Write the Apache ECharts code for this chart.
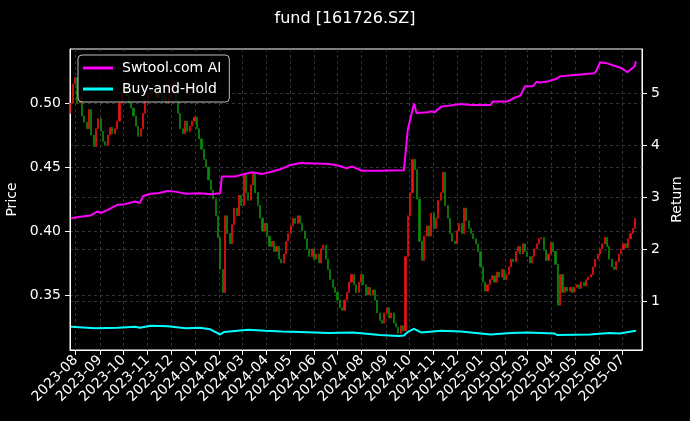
<!DOCTYPE html>
<html><head><meta charset="utf-8">
<script src="https://cdn.jsdelivr.net/npm/echarts@6/dist/echarts.min.js"></script>
<style>html,body{margin:0;padding:0;background:#000}#c{width:690px;height:421px}</style>
</head><body><div id="c"></div>
<script>
// ---- data ----
const title = 'fund [161726.SZ]';
const candleStart = '2023-07-25';   // first sampled day
const candleStepDays = 3;           // one candle per 3 calendar days
const firstOpen = 0.492;
const closes = [
0.500,0.515,0.520,0.500,0.505,0.490,0.485,0.480,0.495,0.475,
0.466,0.480,0.488,0.478,0.470,0.467,0.475,0.481,0.476,0.480,
0.486,0.500,0.508,0.512,0.506,0.500,0.496,0.490,0.482,0.474,
0.480,0.492,0.502,0.508,0.512,0.506,0.510,0.504,0.508,0.502,
0.506,0.500,0.504,0.508,0.516,0.502,0.492,0.480,0.476,0.486,
0.478,0.482,0.486,0.489,0.480,0.472,0.464,0.456,0.450,0.440,
0.432,0.425,0.412,0.395,0.370,0.352,0.412,0.398,0.390,0.405,
0.418,0.412,0.428,0.420,0.444,0.430,0.424,0.436,0.445,0.430,
0.420,0.410,0.400,0.406,0.396,0.388,0.392,0.384,0.388,0.378,
0.375,0.382,0.392,0.398,0.404,0.410,0.406,0.412,0.406,0.400,
0.394,0.386,0.380,0.386,0.378,0.382,0.375,0.386,0.389,0.378,
0.370,0.362,0.356,0.352,0.346,0.340,0.338,0.346,0.352,0.360,
0.366,0.358,0.352,0.360,0.366,0.358,0.350,0.356,0.350,0.354,
0.346,0.336,0.330,0.328,0.336,0.340,0.332,0.336,0.328,0.325,
0.320,0.326,0.322,0.380,0.412,0.430,0.456,0.448,0.425,0.392,
0.377,0.396,0.404,0.396,0.414,0.402,0.410,0.424,0.430,0.446,
0.420,0.410,0.398,0.392,0.390,0.400,0.406,0.398,0.418,0.408,
0.402,0.398,0.394,0.390,0.384,0.372,0.360,0.353,0.358,0.362,
0.365,0.360,0.368,0.364,0.370,0.362,0.366,0.372,0.378,0.376,
0.384,0.388,0.382,0.390,0.384,0.380,0.375,0.380,0.386,0.390,
0.394,0.395,0.385,0.377,0.382,0.391,0.384,0.374,0.342,0.366,
0.352,0.356,0.353,0.356,0.352,0.356,0.358,0.355,0.360,0.357,
0.362,0.364,0.366,0.372,0.378,0.382,0.386,0.390,0.395,0.388,
0.378,0.372,0.370,0.376,0.382,0.386,0.390,0.387,0.394,0.398,
0.402,0.410
];
const stratName = 'Swtool.com AI';
const stratDates = ['2023-07-26','2023-08-07','2023-08-20','2023-08-29','2023-09-02','2023-09-11','2023-09-24','2023-10-03','2023-10-16','2023-10-22','2023-10-26','2023-11-05','2023-11-14','2023-11-27','2023-12-06','2023-12-20','2024-01-07','2024-01-20','2024-02-02','2024-02-04','2024-02-21','2024-03-04','2024-03-14','2024-03-27','2024-04-05','2024-04-21','2024-04-30','2024-05-14','2024-06-02','2024-06-21','2024-07-04','2024-07-12','2024-07-20','2024-08-01','2024-08-24','2024-09-24','2024-09-29','2024-10-07','2024-10-10','2024-10-25','2024-10-29','2024-11-02','2024-11-11','2024-12-06','2024-12-19','2025-01-13','2025-01-16','2025-02-04','2025-02-11','2025-02-20','2025-02-26','2025-03-08','2025-03-13','2025-03-17','2025-03-26','2025-04-08','2025-04-12','2025-05-04','2025-05-26','2025-05-29','2025-06-02','2025-06-11','2025-06-19','2025-06-29','2025-07-07','2025-07-16','2025-07-18'];
const stratValues = [2.60,2.63,2.65,2.73,2.70,2.76,2.86,2.87,2.92,2.89,3.02,3.07,3.08,3.12,3.11,3.07,3.08,3.06,3.08,3.40,3.40,3.45,3.48,3.45,3.48,3.55,3.61,3.66,3.65,3.64,3.60,3.56,3.59,3.51,3.51,3.52,4.30,4.80,4.62,4.63,4.65,4.63,4.74,4.79,4.77,4.77,4.84,4.84,4.90,4.95,5.13,5.13,5.22,5.20,5.22,5.28,5.32,5.35,5.38,5.45,5.59,5.57,5.53,5.48,5.40,5.51,5.61];
const bhName = 'Buy-and-Hold';
const bhDates = ['2023-07-26','2023-08-26','2023-09-24','2023-10-16','2023-10-22','2023-11-05','2023-11-27','2023-12-20','2024-01-07','2024-01-20','2024-02-02','2024-02-07','2024-03-09','2024-03-31','2024-04-21','2024-05-14','2024-06-21','2024-07-21','2024-08-24','2024-09-17','2024-09-24','2024-09-29','2024-10-07','2024-10-16','2024-11-11','2024-12-06','2025-01-13','2025-02-08','2025-03-01','2025-04-05','2025-04-08','2025-05-20','2025-06-14','2025-06-27','2025-07-18'];
const bhValues = [0.52,0.49,0.50,0.52,0.50,0.54,0.53,0.49,0.50,0.47,0.37,0.42,0.46,0.44,0.43,0.42,0.40,0.41,0.36,0.34,0.35,0.42,0.48,0.41,0.44,0.43,0.37,0.40,0.41,0.39,0.36,0.37,0.40,0.39,0.44];
const monthTicks = ['2023-08','2023-09','2023-10','2023-11','2023-12','2024-01','2024-02','2024-03','2024-04','2024-05','2024-06','2024-07','2024-08','2024-09','2024-10','2024-11','2024-12','2025-01','2025-02','2025-03','2025-04','2025-05','2025-06','2025-07'];
const priceTicks = [0.35,0.40,0.45,0.50];
const returnTicks = [1,2,3,4,5];
const xRange = ['2023-07-24T17:00:00','2025-07-25T17:00:00'];
const priceRange = [0.3070,0.5423];
const returnRange = [0.073,5.845];

// ---- build ----
function toTs(s){ const p=s.split('-').map(Number); return new Date(p[0],p[1]-1,p[2]||1).getTime(); }
const DAY = 86400000;
const t0 = toTs(candleStart);
const candleData = closes.map((c,i)=>{
  const o = i===0 ? firstOpen : closes[i-1];
  return [t0 + i*candleStepDays*DAY, o, c, Math.min(o,c), Math.max(o,c)];
});
const stratData = stratDates.map((d,i)=>[toTs(d), stratValues[i]]);
const bhData = bhDates.map((d,i)=>[toTs(d), bhValues[i]]);
const monthVals = monthTicks.map(toTs);
const FONT = 'DejaVu Sans';
const grid = {color:'#404040', type:[3,3], width:0.8};
const white = '#ffffff';

const chart = echarts.init(document.getElementById('c'), null, {renderer:'canvas'});
chart.setOption({
  backgroundColor:'#000000',
  animation:false,
  textStyle:{fontFamily:FONT},
  title:{text:title, left:'center', top:6, textStyle:{color:white, fontSize:16, fontWeight:'normal', fontFamily:FONT}},
  legend:{
    data:[stratName, bhName], orient:'vertical', left:78, top:55,
    backgroundColor:'rgba(0,0,0,0.8)', borderColor:'#bdbdbd', borderWidth:1, borderRadius:4,
    padding:[6,8,6,5], itemGap:7, itemWidth:30, itemHeight:3, icon:'rect',
    textStyle:{color:white, fontSize:14, fontFamily:FONT, padding:[0,0,0,4]}
  },
  grid:{left:70, right:48, top:49, bottom:71, show:true, borderColor:white, borderWidth:1, backgroundColor:'#000000', containLabel:false, outerBoundsMode:'none'},
  xAxis:{
    type:'value', min:new Date(xRange[0]).getTime(), max:new Date(xRange[1]).getTime(),
    axisLine:{show:true, lineStyle:{color:white, width:1}},
    axisTick:{show:true, length:5, customValues:monthVals, lineStyle:{color:white}},
    axisLabel:{customValues:monthVals, rotate:45, color:white, fontSize:14, fontFamily:FONT, margin:8, hideOverlap:false,
      formatter:v=>{const d=new Date(v); return d.getFullYear()+'-'+String(d.getMonth()+1).padStart(2,'0');}},
    splitLine:{show:true, lineStyle:grid}
  },
  yAxis:[{
    type:'value', position:'left', min:priceRange[0], max:priceRange[1],
    name:'Price', nameLocation:'middle', nameGap:45, nameTextStyle:{color:white, fontSize:14, fontFamily:FONT},
    axisLine:{show:true, lineStyle:{color:white}},
    axisTick:{show:true, length:5, customValues:priceTicks, lineStyle:{color:white}},
    axisLabel:{customValues:priceTicks, color:white, fontSize:14, fontFamily:FONT, margin:9, formatter:v=>v.toFixed(2)},
    splitLine:{show:true, lineStyle:grid}
  },{
    type:'value', position:'right', min:returnRange[0], max:returnRange[1],
    name:'Return', nameLocation:'middle', nameGap:22, nameRotate:90, nameTextStyle:{color:white, fontSize:14, fontFamily:FONT},
    axisLine:{show:true, lineStyle:{color:white}},
    axisTick:{show:true, length:5, customValues:returnTicks, lineStyle:{color:white}},
    axisLabel:{customValues:returnTicks, color:white, fontSize:14, fontFamily:FONT, margin:9, formatter:v=>String(Math.round(v))},
    splitLine:{show:true, lineStyle:grid}
  }],
  series:[{
    type:'candlestick', name:'price', xAxisIndex:0, yAxisIndex:0, data:candleData, barWidth:1.6,
    itemStyle:{color:'#f01010', color0:'#0c8a0c', borderColor:'#f01010', borderColor0:'#0c8a0c', borderWidth:0.7},
    z:2
  },{
    type:'line', name:stratName, yAxisIndex:1, data:stratData, showSymbol:false, symbol:'none',
    lineStyle:{color:'#ff00ff', width:2}, itemStyle:{color:'#ff00ff'}, z:3
  },{
    type:'line', name:bhName, yAxisIndex:1, data:bhData, showSymbol:false, symbol:'none',
    lineStyle:{color:'#00ffff', width:2}, itemStyle:{color:'#00ffff'}, z:3
  }]
});
</script></body></html>
